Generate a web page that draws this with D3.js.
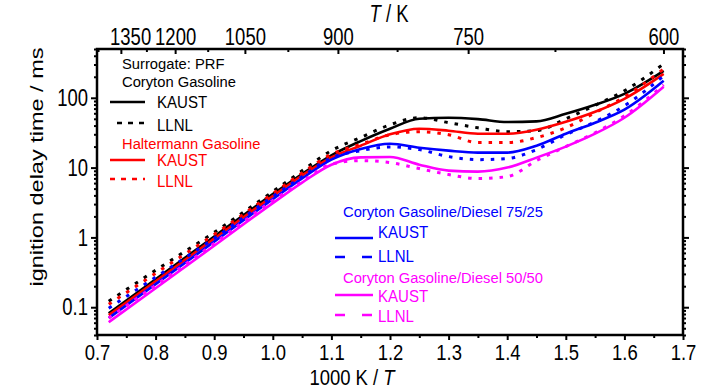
<!DOCTYPE html>
<html><head><meta charset="utf-8">
<script src="https://cdn.jsdelivr.net/npm/d3@7"></script>
<style>body{margin:0;background:#fff}svg{display:block}text{font-family:"Liberation Sans",Arial,sans-serif}</style>
</head><body><svg id="c" width="728" height="390"></svg>
<script>
// 1000 K / T grid
const invT = [0.72, 0.8, 0.9, 1.0, 1.05, 1.1, 1.15, 1.2, 1.25, 1.3, 1.35, 1.4, 1.45, 1.5, 1.55, 1.6, 1.667];
// ignition delay times / ms
const kaustCoryton    = [0.082, 0.252, 1.03, 4.17, 8.1, 15.0, 24.0, 36.1, 50.1, 51.8, 49.5, 45.0, 46.0, 59.0, 79.4, 114, 243];
const llnlCoryton     = [0.122, 0.338, 1.18, 4.54, 9.0, 17.5, 27.0, 41.1, 51.8, 44.0, 37.2, 32.7, 33.8, 50.0, 78.0, 126, 306];
const kaustHaltermann = [0.077, 0.236, 0.96, 3.90, 7.7, 14.0, 20.6, 30.0, 36.1, 33.8, 30.6, 30.6, 34.9, 45.4, 63.1, 96.8, 220];
const llnlHaltermann  = [0.110, 0.306, 1.10, 4.26, 8.4, 15.5, 21.5, 29.6, 32.7, 29.6, 22.8, 22.8, 26.9, 37.2, 61.1, 103, 259];
const kaustCD7525     = [0.070, 0.214, 0.87, 3.54, 7.0, 13.0, 18.5, 22.0, 19.3, 17.5, 16.4, 16.4, 20.6, 30.6, 44.0, 67.5, 175];
const llnlCD7525      = [0.097, 0.269, 0.97, 3.85, 7.4, 13.8, 17.5, 19.8, 18.1, 14.4, 13.0, 13.5, 18.1, 29.6, 45.4, 76.9, 206];
const kaustCD5050     = [0.061, 0.187, 0.76, 3.10, 6.1, 11.0, 14.0, 14.2, 11.0, 9.06, 8.77, 10.0, 13.9, 20.0, 30.6, 51.8, 144];
const llnlCD5050      = [0.070, 0.206, 0.82, 3.38, 6.3, 11.2, 12.6, 11.8, 9.68, 7.94, 6.97, 7.43, 12.6, 20.0, 31.6, 55.3, 153];

const xTicks = [0.7, 0.8, 0.9, 1.0, 1.1, 1.2, 1.3, 1.4, 1.5, 1.6, 1.7];
const xMinor = [0.75, 0.85, 0.95, 1.05, 1.15, 1.25, 1.35, 1.45, 1.55, 1.65];
const yTicks = [0.1, 1, 10, 100];
const yTickLabels = ["0.1", "1", "10", "100"];
const tTicks = [1350, 1200, 1050, 900, 750, 600];
const tMinor = [1425, 1275, 1125, 975, 825, 675];

const svg = d3.select("#c");
const L = 97, R = 683, T = 49, B = 335;
const x = d3.scaleLinear([0.7, 1.7], [L, R]);
const y = d3.scaleLog([0.04, 500], [B, T]);
const SX = 0.77, FS = 24;

function squish(g, sx) {
  g.selectAll(".tick text").each(function () {
    const t = d3.select(this);
    const xv = +t.attr("x") || 0;
    t.attr("x", xv / sx).attr("transform", `scale(${sx},1)`);
  });
}
function clean(g) { g.select(".domain").remove(); g.attr("font-family", null); }

// axes
const yMinorVals = y.ticks().filter(v => !yTicks.includes(v));
const gl = svg.append("g").attr("transform", `translate(${L},0)`)
  .call(d3.axisLeft(y).tickValues(yTicks).tickFormat((d, i) => yTickLabels[i]).tickSizeInner(6).tickSizeOuter(0).tickPadding(3));
clean(gl); gl.attr("font-size", FS); squish(gl, SX);
const glm = svg.append("g").attr("transform", `translate(${L},0)`)
  .call(d3.axisLeft(y).tickValues(yMinorVals).tickFormat("").tickSizeInner(3).tickSizeOuter(0));
clean(glm);
const gr = svg.append("g").attr("transform", `translate(${R},0)`)
  .call(d3.axisRight(y).tickValues(yTicks).tickFormat("").tickSizeInner(6).tickSizeOuter(0));
clean(gr);
const grm = svg.append("g").attr("transform", `translate(${R},0)`)
  .call(d3.axisRight(y).tickValues(yMinorVals).tickFormat("").tickSizeInner(3).tickSizeOuter(0));
clean(grm);

const gb = svg.append("g").attr("transform", `translate(0,${B})`)
  .call(d3.axisBottom(x).tickValues(xTicks).tickFormat(d3.format(".1f")).tickSizeInner(5).tickSizeOuter(0).tickPadding(4));
clean(gb); gb.attr("font-size", 22); squish(gb, 0.84);
const gbm = svg.append("g").attr("transform", `translate(0,${B})`)
  .call(d3.axisBottom(x).tickValues(xMinor).tickFormat("").tickSizeInner(3).tickSizeOuter(0));
clean(gbm);

// top axis: T / K placed at 1000/T on the same scale
const gTop = svg.append("g").attr("transform", `translate(0,${T})`)
  .call(d3.axisTop(x).tickValues(tTicks.map(t => 1000 / t)).tickFormat((d, i) => String(tTicks[i])).tickSizeInner(-5).tickSizeOuter(0).tickPadding(4));
clean(gTop); gTop.attr("font-size", FS); squish(gTop, SX);
gTop.selectAll(".tick text").filter((d, i) => i === 0).attr("dx", 12);
const gTopm = svg.append("g").attr("transform", `translate(0,${T})`)
  .call(d3.axisTop(x).tickValues(tMinor.map(t => 1000 / t)).tickFormat("").tickSizeInner(-3).tickSizeOuter(0));
clean(gTopm);
svg.selectAll(".tick line").attr("stroke", "#000").attr("stroke-width", 2);

// series
const DASH = "3.5,7";
const series = [
  { v: kaustCoryton, c: "#000000", d: null },
  { v: llnlCoryton, c: "#000000", d: DASH },
  { v: kaustHaltermann, c: "#ff0000", d: null },
  { v: llnlHaltermann, c: "#ff0000", d: DASH },
  { v: kaustCD7525, c: "#0000ff", d: null },
  { v: llnlCD7525, c: "#0000ff", d: DASH },
  { v: kaustCD5050, c: "#ff00ff", d: null },
  { v: llnlCD5050, c: "#ff00ff", d: DASH }
];
const line = d3.line().x((d, i) => x(invT[i])).y(d => y(d)).curve(d3.curveMonotoneX);
svg.append("g").selectAll("path").data(series).join("path")
  .attr("d", s => line(s.v)).attr("fill", "none").attr("stroke", s => s.c)
  .attr("stroke-width", s => s.d ? 3 : 2.6).attr("stroke-dasharray", s => s.d);

// frame
svg.append("rect").attr("x", L).attr("y", T).attr("width", R - L).attr("height", B - T)
  .attr("fill", "none").attr("stroke", "#000").attr("stroke-width", 2.5);

// texts
function label(x0, y0, s, size, color, sx, anchor) {
  return svg.append("text").attr("transform", `translate(${x0},${y0}) scale(${sx},1)`)
    .attr("font-size", size).attr("fill", color).attr("text-anchor", anchor || "start").text(s);
}
// axis titles
const tt = svg.append("text").attr("transform", `translate(389,22) scale(${SX},1)`).attr("font-size", FS).attr("text-anchor", "middle");
tt.append("tspan").attr("font-style", "italic").text("T");
tt.append("tspan").text(" / K");
const bt = svg.append("text").attr("transform", `translate(352,385) scale(0.84,1)`).attr("font-size", 22).attr("text-anchor", "middle");
bt.append("tspan").text("1000 K / ");
bt.append("tspan").attr("font-style", "italic").text("T");
svg.append("text").attr("transform", `translate(43,167) rotate(-90) scale(1,${SX})`).attr("font-size", 23.5)
  .attr("text-anchor", "middle").text("ignition delay time / ms");

// legend 1
const TS = 15.2, TSX = 0.97, KS = 16, KSX = 0.94;
label(122, 69, "Surrogate: PRF", TS, "#000", TSX);
label(122, 87, "Coryton Gasoline", TS, "#000", TSX);
svg.append("line").attr("x1", 110).attr("x2", 145).attr("y1", 102).attr("y2", 102).attr("stroke", "#000").attr("stroke-width", 2.5);
label(157, 108, "KAUST", KS, "#000", KSX);
svg.append("line").attr("x1", 117).attr("x2", 145).attr("y1", 123).attr("y2", 123).attr("stroke", "#000").attr("stroke-width", 2.5).attr("stroke-dasharray", "5,6");
label(157, 131, "LLNL", KS, "#000", KSX);
label(122, 149, "Haltermann Gasoline", TS, "#ff0000", TSX);
svg.append("line").attr("x1", 110).attr("x2", 145).attr("y1", 160).attr("y2", 160).attr("stroke", "#ff0000").attr("stroke-width", 2.5);
label(157, 166, "KAUST", KS, "#ff0000", KSX);
svg.append("line").attr("x1", 110).attr("x2", 145).attr("y1", 179).attr("y2", 179).attr("stroke", "#ff0000").attr("stroke-width", 2.5).attr("stroke-dasharray", "5,6");
label(157, 187, "LLNL", KS, "#ff0000", KSX);

// legend 2
label(343, 217, "Coryton Gasoline/Diesel 75/25", TS, "#0000ff", TSX);
svg.append("line").attr("x1", 335).attr("x2", 373).attr("y1", 238).attr("y2", 238).attr("stroke", "#0000ff").attr("stroke-width", 2.5);
label(378, 238, "KAUST", KS, "#0000ff", KSX);
svg.append("line").attr("x1", 335).attr("x2", 373).attr("y1", 257).attr("y2", 257).attr("stroke", "#0000ff").attr("stroke-width", 2.5).attr("stroke-dasharray", "10,17");
label(378, 262, "LLNL", KS, "#0000ff", KSX);
label(343, 283, "Coryton Gasoline/Diesel 50/50", TS, "#ff00ff", TSX);
svg.append("line").attr("x1", 335).attr("x2", 373).attr("y1", 295).attr("y2", 295).attr("stroke", "#ff00ff").attr("stroke-width", 2.5);
label(378, 302, "KAUST", KS, "#ff00ff", KSX);
svg.append("line").attr("x1", 335).attr("x2", 373).attr("y1", 315).attr("y2", 315).attr("stroke", "#ff00ff").attr("stroke-width", 2.5).attr("stroke-dasharray", "10,17");
label(378, 322, "LLNL", KS, "#ff00ff", KSX);
</script></body></html>
